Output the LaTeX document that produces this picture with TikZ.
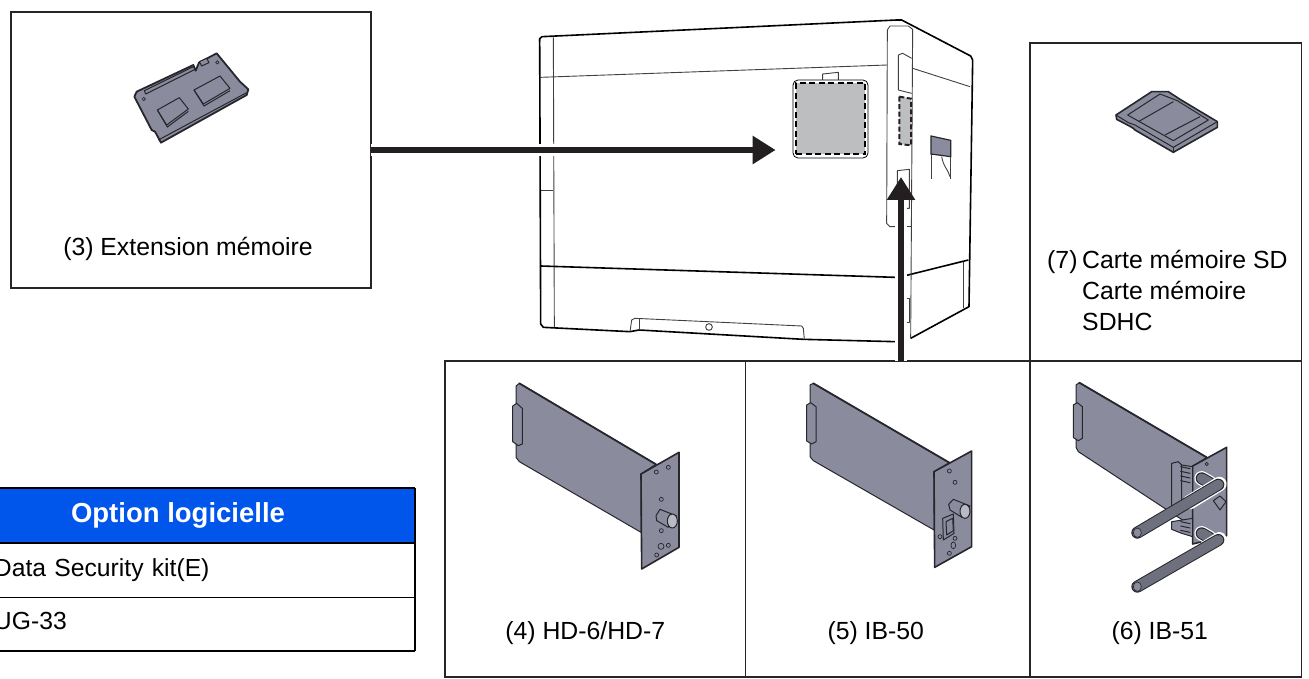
\documentclass[tikz,border=0pt]{standalone}
\usepackage{fontspec}
\setmainfont{Liberation Sans}
\usetikzlibrary{positioning,arrows.meta,calc}
\definecolor{cardgray}{HTML}{8A8C9E}
\definecolor{cardline}{HTML}{26262C}
\definecolor{inkblack}{HTML}{231F20}
\definecolor{panelgray}{HTML}{BCBEC0}
\definecolor{headblue}{HTML}{0055EA}

\begin{document}
\begin{tikzpicture}[x=1pt,y=-1pt,
  optionbox/.style={rectangle, draw=black!85, line width=1.6pt, inner sep=0pt, outer sep=0pt, minimum width=#1},
  optlabel/.style={font=\fontsize{24.8}{31}\selectfont, inner sep=0pt, text=black},
  tablerow/.style={rectangle, inner sep=0pt, outer sep=0pt, minimum height=#1, font=\fontsize{24.7}{27}\selectfont, text width=421pt, align=left},
  bigarrow/.style={line width=5.8pt, draw=inkblack, -{Triangle[length=23pt,width=27pt,fill=inkblack]}},
  halo/.style={line width=12pt, draw=white},
  outline/.style={draw=black, line width=1.6pt, line join=round},
  thinline/.style={draw=black!75, line width=0.9pt, line join=round},
  card/.style={fill=cardgray, draw=cardline, line width=1pt, line join=round},
  cardedge/.style={draw=cardline, line width=1.8pt, line cap=round},
  hole/.style={fill=cardgray, draw=cardline, line width=0.7pt}]

\useasboundingbox (0,0) rectangle (1309,679);

% BOXES

\node [optionbox=360pt, minimum height=276pt, anchor=north west] (box3) at (11,12) {};
\node [optionbox=271.5pt, minimum height=318pt, anchor=north west] (box7) at (1030,43) {};
\node [optionbox=300.5pt, minimum height=316pt, anchor=north east] (box4) at (745.5,361) {};
\node [optionbox=284.5pt, minimum height=316pt, right=0pt of box4] (box5) {};
\node [optionbox=271.5pt, minimum height=316pt, right=0pt of box5] (box6) {};

% LABELS

\node [optlabel, above=27pt of box3.south, xshift=-3pt] (label3) {(3) Extension mémoire};
\node [optlabel, above=32pt of box4.south, xshift=-10pt] (label4) {(4) HD-6/HD-7};
\node [optlabel, above=32pt of box5.south, xshift=-12pt] (label5) {(5) IB-50};
\node [optlabel, above=32pt of box6.south, xshift=-6pt] (label6) {(6) IB-51};
\node [optlabel, align=left, anchor=north west] (label7) at (1047,250)
{\makebox[35pt][l]{(7)}Carte mémoire SD\\
\hspace*{35pt}Carte mémoire\\
\hspace*{35pt}SDHC};

% TABLE

\node [rectangle, inner sep=0pt, outer sep=0pt, minimum width=474pt, minimum height=55pt, fill=headblue, anchor=north east, text=white, font=\fontsize{27.5}{30}\bfseries\selectfont] (tablehead) at (415,488) {\raisebox{1pt}{Option logicielle}};
\node [tablerow=54pt, below=0pt of tablehead.south east, anchor=north east] (tablerow1) {\raisebox{3.5pt}{Data Security kit(E)}};
\node [tablerow=54pt, below=0pt of tablerow1.south east, anchor=north east] (tablerow2) {\raisebox{6pt}{UG-33}};
\draw [line width=2.4pt] (tablehead.north west) -- (tablehead.north east);
\draw [line width=1.6pt] (tablehead.south west) -- (tablehead.south east);
\draw [line width=0.8pt] (tablerow1.south west) -- (tablerow1.south east);
\draw [line width=2pt] (tablerow2.south west) -- (tablerow2.south east);
\draw [line width=1.6pt] (tablehead.north east) -- (tablerow2.south east);

% PRINTER

\begin{scope}[shift={(520,0)},scale=1/3]
\draw [thinline] (100,112) -- (103,982);
\draw [thinline] (62,232) -- (1102,195);
\draw [thinline] (62,570) -- (100,570);
\draw [outline] (59,125) -- (59,116) -- (66,110) -- (1130,60) -- (1145,60) -- (1352,168) -- (1358,180) -- (1347,920) -- (1172,1015);
\draw [outline] (59,116) -- (62,972) -- (70,982) -- (330,995);
\draw [outline] (330,995) -- (357,990) -- (850,1018) -- (1125,1025);
\draw [outline] (62,798) -- (1125,832);
\draw [outline] (1160,826) -- (1345,780);
\draw [thinline] (1102,90) -- (1110,78) -- (1165,78) -- (1178,88) -- (1172,1015);
\draw [thinline] (1102,90) -- (1100,670) -- (1110,680) -- (1125,680);
\draw [thinline] (1155,680) -- (1172,680);
\draw [thinline] (1135,270) -- (1135,165) -- (1148,160) -- (1175,175);
\draw [thinline] (1135,270) -- (1175,280);
\draw [thinline] (1178,205) -- (1350,260);
\draw [thinline] (1330,785) -- (1330,925);
\draw [thinline] (1160,895) -- (1168,895) -- (1168,968) -- (1160,968);
\draw [thinline] (1132,590) -- (1132,512) -- (1168,508) -- (1168,625) -- (1160,625);
\draw [thinline] (330,995) -- (335,960) -- (345,955) -- (845,978) -- (850,985) -- (853,1018);
\draw [thinline] (357,958) -- (357,990);
\draw [thinline, fill=white] (567,981) circle [radius=10];
\draw [thinline, fill=white] (908,245) -- (908,222) -- (955,217) -- (955,245);
\draw [fill=panelgray, draw=inkblack, line width=2pt, dash pattern=on 5pt off 2.5pt] (1138,290) -- (1173,296) -- (1173,436) -- (1138,432) -- cycle;
\draw [fill=cardgray, draw=cardline, line width=1.2pt] (1233,408) -- (1292,421) -- (1292,470) -- (1233,462) -- cycle;
\draw [thinline] (1235,462) -- (1235,537);
\draw [thinline] (1290,470) -- (1290,537);
\draw [thinline] (1265,470) .. controls (1270,500) and (1285,510) .. (1290,530);
\end{scope}

\node [rectangle, rounded corners=5pt, draw=black, line width=0.8pt, fill=white, inner sep=0pt, minimum width=75pt, minimum height=78pt] (panel) at (830.5,119) {};
\node [rectangle, draw=black, line width=2pt, dash pattern=on 6pt off 3.5pt, fill=panelgray, inner sep=0pt, minimum width=69pt, minimum height=71pt] (panelinner) at (panel.center) {};

% MEMORY MODULE

\begin{scope}[shift={(100,30)},scale=1/3]
\draw [card, line width=1.8pt] (103,200) -- (110,185) -- (280,105) -- (287,122) -- (297,98) -- (350,70) -- (420,155) -- (445,178) -- (440,195) -- (183,338) -- (165,305) -- (155,300) -- cycle;
\draw [card] (133,182) -- (280,110) -- (285,118) -- (137,192) -- cycle;
\draw [cardline, line width=1pt] (175,330) -- (440,188);
\draw [card] (172,240) -- (238,203) -- (265,237) -- (200,285) -- cycle;
\draw [cardline, line width=1pt] (172,240) -- (202,291) -- (265,244);
\draw [card] (282,180) -- (360,138) -- (390,175) -- (310,222) -- cycle;
\draw [cardline, line width=1pt] (282,180) -- (312,228) -- (390,182);
\draw [card] (298,95) -- (320,85) -- (327,98) -- (305,108) -- cycle;
\foreach \hx/\hy in {131/207,352/97}
  \draw [hole] (\hx,\hy) circle [radius=5];
\end{scope}

% SD CARD

\begin{scope}[shift={(1090,70)},scale=1/3]
\draw [card, line width=1.6pt] (78,135) -- (185,65) -- (235,65) -- (270,88) -- (382,155) -- (382,172) -- (250,247) -- (135,180) -- (130,175) -- (118,168) -- (80,148) -- cycle;
\draw [card] (78,135) -- (115,158) -- (135,165) -- (250,232) -- (382,155);
\draw [card] (250,232) -- (250,247);
\draw [card] (113,135) -- (210,72) -- (262,92) -- (355,150) -- (250,212) -- cycle;
\draw [card] (145,155) -- (250,95);
\draw [card] (225,195) -- (330,140);
\end{scope}

% CARD HD

\begin{scope}[shift={(480,370)},scale=1/3]
\draw [card] (108,48) -- (118,40) -- (528,283) -- (483,312) -- (483,487) -- (118,275) -- (108,262) -- cycle;
\draw [cardedge] (118,40) -- (528,283);
\draw [card] (98,108) -- (110,100) -- (127,115) -- (127,222) -- (115,227) -- (98,215) -- cycle;
\draw [card, line width=1.6pt] (483,312) -- (597,247) -- (597,532) -- (485,597) -- cycle;
\foreach \hx/\hy in {529/306,565/292,544/388,544/482,565/526,530/555}
  \draw [hole] (\hx,\hy) circle [radius=6];
\draw [hole] (543,529) circle [radius=9];
\draw [card] (528,437) -- (540,418) -- (590,438) -- (565,472) -- (530,452) -- cycle;
\draw [card, fill=cardgray!60] (577,453) circle [x radius=15, y radius=21];
\end{scope}

% CARD IB 50

\begin{scope}[shift={(790,370)},scale=1/3]
\draw [card] (60,45) -- (70,40) -- (478,278) -- (432,305) -- (432,480) -- (70,272) -- (60,260) -- cycle;
\draw [cardedge] (70,40) -- (478,278);
\draw [card] (50,105) -- (62,98) -- (78,110) -- (78,215) -- (65,222) -- (50,213) -- cycle;
\draw [card, line width=1.6pt] (432,305) -- (545,243) -- (545,530) -- (434,592) -- cycle;
\foreach \hx/\hy in {478/303,495/337,450/500,495/505,478/550}
  \draw [hole] (\hx,\hy) circle [radius=6];
\draw [hole] (490,526) circle [x radius=7, y radius=10];
\draw [card] (458,445) -- (490,432) -- (492,490) -- (460,510) -- cycle;
\draw [card] (468,455) -- (488,445) -- (490,482) -- (470,495) -- cycle;
\draw [card] (476,403) -- (490,388) -- (540,408) -- (516,442) -- (480,420) -- cycle;
\draw [card, fill=cardgray!60] (525,424) circle [x radius=15, y radius=21];
\end{scope}

% CARD IB 51

\begin{scope}[shift={(1050,370)},scale=1/3]
\draw [card] (78,45) -- (88,38) -- (470,262) -- (428,290) -- (428,470) -- (85,245) -- (78,232) -- cycle;
\draw [cardedge] (88,38) -- (470,262);
\draw [card] (70,105) -- (82,98) -- (97,110) -- (97,205) -- (85,212) -- (70,203) -- cycle;
\draw [card, line width=1.6pt] (428,288) -- (530,232) -- (530,497) -- (428,522) -- cycle;
\draw [hole] (470,282) circle [radius=5];
\draw [card] (365,280) -- (385,275) -- (395,285) -- (395,400) -- (365,412) -- cycle;
\draw [card] (395,285) -- (428,290) -- (428,380) -- (395,400) -- cycle;
\foreach \sy in {290,304,318,332}
  \draw [cardedge, line width=1pt] (392,\sy) -- (420,\sy+6);
\draw [card] (365,455) -- (428,445) -- (428,500) -- (395,490) -- (365,478) -- cycle;
\foreach \sy in {455,468,481}
  \draw [cardedge, line width=1pt] (392,\sy) -- (420,\sy+6);
\draw [card] (490,392) -- (510,378) -- (528,395) -- (510,420) -- cycle;
% antennas
\draw [white, line width=14.5pt, line cap=round] (455,325) -- (478,338);
\draw [cardline, line width=12pt, line cap=round] (455,325) -- (478,338);
\draw [cardgray!80!black, line width=10pt, line cap=round] (455,325) -- (478,338);
\draw [white, line width=14.5pt, line cap=round] (508,342) -- (420,396);
\draw [cardline, line width=12pt, line cap=round] (505,344) -- (262,488);
\draw [cardgray!80!black, line width=10pt, line cap=round] (505,344) -- (262,488);
\draw [cardline, fill=cardgray, line width=0.6pt] (262,488) circle [x radius=12, y radius=14];
\draw [white, line width=14.5pt, line cap=round] (455,490) -- (478,503);
\draw [cardline, line width=12pt, line cap=round] (455,490) -- (478,503);
\draw [cardgray!80!black, line width=10pt, line cap=round] (455,490) -- (478,503);
\draw [white, line width=14.5pt, line cap=round] (508,508) -- (470,532);
\draw [cardline, line width=12pt, line cap=round] (505,510) -- (262,650);
\draw [cardgray!80!black, line width=10pt, line cap=round] (505,510) -- (262,650);
\draw [cardline, fill=cardgray, line width=0.6pt] (262,650) circle [x radius=12, y radius=14];
\end{scope}

% ARROWS

\coordinate (slottip) at (901,177);
\draw [halo, shorten >=22pt] (box5.north -| slottip) -- (slottip);
\draw [bigarrow] (box5.north -| slottip) -- (slottip);
\draw [halo, shorten >=20pt] (box3.east) -- ($(box3.east -| panel.west)+(-17,0)$);
\draw [bigarrow] (box3.east) -- ($(box3.east -| panel.west)+(-17,0)$);

\end{tikzpicture}
\end{document}
